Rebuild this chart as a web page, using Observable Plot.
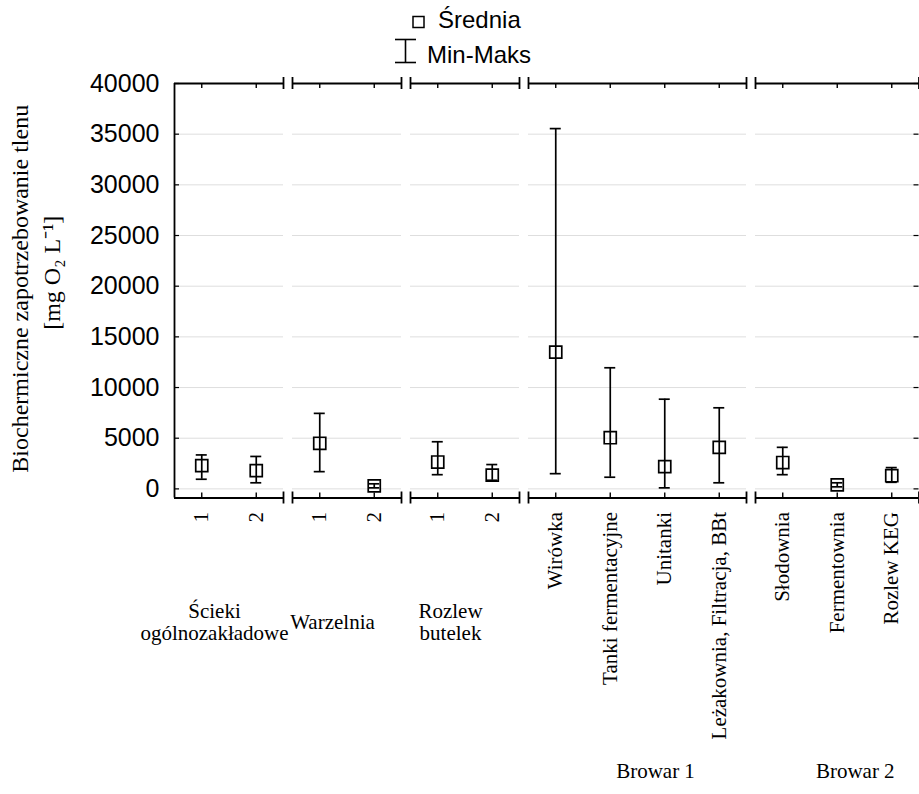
<!DOCTYPE html>
<html>
<head>
<meta charset="utf-8">
<script src="https://cdn.jsdelivr.net/npm/d3@7"></script>
<script src="https://cdn.jsdelivr.net/npm/@observablehq/plot@0.6"></script>
<style>
  html, body { margin: 0; padding: 0; background: #fff; overflow: hidden; }
  #wrap { position: relative; width: 919px; height: 794px; overflow: hidden; background: #fff; }
  #legend { position: absolute; left: 0; top: 0; }
</style>
</head>
<body>
<div id="wrap"><div id="chart"></div><svg id="legend" width="919" height="72"></svg></div>
<script>
// ---------------- data ----------------
const groupLabels = ["Ścieki\nogólnozakładowe", "Warzelnia", "Rozlew\nbutelek", "Browar 1", "Browar 2"];
const categories = ["1", "2", "1", "2", "1", "2",
  "Wirówka", "Tanki fermentacyjne", "Unitanki", "Leżakownia, Filtracja, BBt",
  "Słodownia", "Fermentownia", "Rozlew KEG"];
const groupOf = [0, 0, 1, 1, 2, 2, 3, 3, 3, 3, 4, 4, 4];
const meanValues = [2300, 1800, 4500, 300, 2650, 1350, 13500, 5050, 2200, 4100, 2600, 400, 1300];
const minValues  = [950, 600, 1700, 100, 1400, 850, 1500, 1150, 100, 600, 1400, 200, 650];
const maxValues  = [3350, 3200, 7450, 500, 4650, 2400, 35550, 11950, 8850, 8000, 4100, 600, 2100];
const yTicks = [0, 5000, 10000, 15000, 20000, 25000, 30000, 35000, 40000];
const legendLabels = ["Średnia", "Min-Maks"];
const yTitle = ["Biochermiczne zapotrzebowanie tlenu", "[mg O₂ L⁻¹]"];

// ---------------- layout ----------------
const W = 919, H = 794;
const mL = 174, mT = 83, frameBottom = 497.5;
const unitPx = 54.5, gapPx = 9;
const gapU = gapPx / unitPx;
const yMin = -900, yMax = 40000;
const serif = "'Liberation Serif', 'Times New Roman', serif";
const sans = "'Liberation Sans', Arial, sans-serif";

const rows = categories.map((c, i) => ({
  cat: c, g: groupOf[i], pos: i + 0.5 + groupOf[i] * gapU,
  mean: meanValues[i], min: minValues[i], max: maxValues[i]
}));
const groups = groupLabels.map((label, g) => {
  const idx = groupOf.map((v, i) => v === g ? i : -1).filter(i => i >= 0);
  const start = idx[0] + g * gapU;
  return { label, start, end: start + idx.length, center: start + idx.length / 2 };
});
const D = groups[groups.length - 1].end;
const mR = W - (mL + unitPx * D);

const gridData = groups.flatMap(g => yTicks.filter(v => v < yMax).map(v => ({ v, start: g.start, end: g.end })));
const capX = groups.flatMap((g, i) => i === 0 ? [g.end] : [g.start, g.end]);

const lw = 1.8;
const chart = Plot.plot({
  width: W, height: H,
  marginLeft: mL, marginRight: mR, marginTop: mT, marginBottom: H - frameBottom,
  x: { domain: [0, D], axis: null },
  y: { domain: [yMin, yMax], axis: null },
  style: { fontFamily: sans, background: "white", color: "black" },
  marks: [
    // grid per panel
    Plot.ruleY(gridData, { y: "v", x1: "start", x2: "end", stroke: "#dedede", strokeWidth: 1 }),
    // left y axis + ticks
    Plot.ruleX([0], { x: d => d, stroke: "black", strokeWidth: lw }),
    Plot.ruleY(yTicks, { y: d => d, x1: () => 0, x2: () => 0, insetRight: -5, stroke: "black", strokeWidth: 1.2 }),
    Plot.ruleY(yTicks, { y: d => d, x1: () => D, x2: () => D, insetLeft: -5, stroke: "black", strokeWidth: 1.2 }),
    // top & bottom panel axes
    Plot.ruleY(groups, { y: () => yMax, x1: "start", x2: "end", stroke: "black", strokeWidth: lw }),
    Plot.ruleY(groups, { y: () => yMin, x1: "start", x2: "end", stroke: "black", strokeWidth: lw }),
    Plot.ruleX(capX, { x: d => d, y1: () => yMax, y2: () => yMax, insetTop: -6, insetBottom: -6, stroke: "black", strokeWidth: lw }),
    Plot.ruleX(capX, { x: d => d, y1: () => yMin, y2: () => yMin, insetTop: -6, insetBottom: -6, stroke: "black", strokeWidth: lw }),
    Plot.ruleX(rows, { x: "pos", y1: () => yMax, y2: () => yMax, insetBottom: -5, stroke: "black", strokeWidth: 1.4 }),
    Plot.ruleX(rows, { x: "pos", y1: () => yMin, y2: () => yMin, insetTop: -5, stroke: "black", strokeWidth: 1.4 }),
    // min-max whiskers
    Plot.ruleX(rows, { x: "pos", y1: "min", y2: "max", stroke: "black", strokeWidth: 1.7 }),
    Plot.ruleY(rows, { y: "max", x1: "pos", x2: "pos", insetLeft: -5.5, insetRight: -5.5, stroke: "black", strokeWidth: 1.7 }),
    Plot.ruleY(rows, { y: "min", x1: "pos", x2: "pos", insetLeft: -5.5, insetRight: -5.5, stroke: "black", strokeWidth: 1.7 }),
    // means
    Plot.dot(rows, { x: "pos", y: "mean", symbol: "square", r: 6.8, fill: "none", stroke: "black", strokeWidth: 1.7 }),
    // y tick labels
    Plot.text(yTicks, { y: d => d, frameAnchor: "left", text: d => String(d), textAnchor: "end", dx: -15,
      fontSize: 25, fontFamily: sans, fill: "black" }),
    // y title
    Plot.text([yTitle[0]], { frameAnchor: "left", text: d => d, rotate: -90, textAnchor: "middle", lineAnchor: "middle",
      dx: -154, dy: -2, fontSize: 24, fontFamily: serif, fill: "black" }),
    Plot.text([yTitle[1]], { frameAnchor: "left", text: d => d, rotate: -90, textAnchor: "middle", lineAnchor: "middle",
      dx: -122, dy: -18, fontSize: 24, fontFamily: serif, fill: "black" }),
    // category labels (rotated)
    Plot.text(rows, { x: "pos", text: "cat", frameAnchor: "bottom", rotate: -90, textAnchor: "end",
      lineAnchor: "middle", dy: 14, fontSize: 21, fontFamily: serif, fill: "black" }),
    // group labels
    Plot.text(groups.slice(0, 3), { x: "center", text: "label", frameAnchor: "bottom", dy: 124, dx: -14.5,
      lineAnchor: "middle", lineHeight: 1.07, fontSize: 21, fontFamily: serif, fill: "black" }),
    Plot.text(groups.slice(3), { x: "center", text: "label", frameAnchor: "bottom", dy: 273.5, dx: 18,
      lineAnchor: "middle", fontSize: 21, fontFamily: serif, fill: "black" })
  ]
});
document.getElementById("chart").appendChild(chart);

// ---------------- legend ----------------
const lg = d3.select("#legend");
lg.append("rect").attr("x", 413).attr("y", 16.5).attr("width", 11).attr("height", 11)
  .attr("fill", "none").attr("stroke", "black").attr("stroke-width", 1.5);
lg.append("text").attr("x", 438).attr("y", 28).text(legendLabels[0])
  .attr("font-family", sans).attr("font-size", 24).attr("fill", "black");
lg.append("line").attr("x1", 405.5).attr("x2", 405.5).attr("y1", 39.5).attr("y2", 62.5)
  .attr("stroke", "black").attr("stroke-width", 1.6);
lg.append("line").attr("x1", 395).attr("x2", 416).attr("y1", 39.5).attr("y2", 39.5)
  .attr("stroke", "black").attr("stroke-width", 1.6);
lg.append("line").attr("x1", 395).attr("x2", 416).attr("y1", 62.5).attr("y2", 62.5)
  .attr("stroke", "black").attr("stroke-width", 1.6);
lg.append("text").attr("x", 427).attr("y", 63).text(legendLabels[1])
  .attr("font-family", sans).attr("font-size", 24).attr("fill", "black");
</script>
</body>
</html>
